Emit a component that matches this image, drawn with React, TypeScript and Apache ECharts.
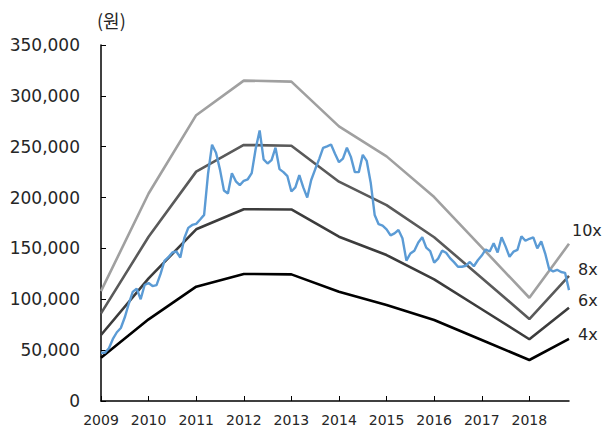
import React, { useEffect, useRef } from 'react';
import * as echarts from 'echarts';

// x positions (years) of the PER band vertices
const bandYears = [2009, 2010, 2011, 2012, 2013, 2014, 2015, 2016, 2017, 2018, 2018.833];
const per10x = [108000, 204000, 281000, 315000, 314000, 270000, 240500, 200500, 151000, 101500, 154500];
const per8x = [86200, 161500, 225500, 251700, 251000, 215600, 192500, 161000, 121000, 80600, 123000];
const per6x = [64900, 120600, 168800, 188500, 188300, 161500, 143500, 119600, 90200, 60700, 91700];
const per4x = [42600, 80300, 112400, 124900, 124500, 107500, 94400, 79600, 60000, 40300, 61000];

// monthly stock price (원), from Jan 2009
const priceStartYear = 2009;
const monthlyPrice = [
  47500, 47500, 51800, 61000, 67600, 71800, 82300, 95600, 107300, 110500, 100000, 114000,
  116000, 113000, 114000, 124700, 137700, 141400, 146000, 147000, 141000, 160000, 170200, 173100,
  174200, 178400, 183000, 223700, 252000, 244000, 227500, 207000, 204000, 224000, 216000, 212200,
  216500, 218000, 224000, 248000, 266000, 237600, 233500, 236800, 249000, 228000, 225000, 221000,
  206000, 210000, 222100, 210000, 200000, 217300, 227800, 237800, 248900, 250400, 252200, 243000,
  234800, 238200, 249000, 240000, 225000, 225000, 242000, 236000, 214600, 182900, 173800, 172400,
  168800, 162900, 164800, 168100, 160000, 138000, 145000, 147800, 155900, 161000, 150800, 147400,
  136000, 140000, 147800, 145800, 140500, 136500, 132000, 132000, 133000, 136700, 132500, 138400,
  143000, 149000, 147000, 155000, 146000, 161000, 152000, 141800, 146800, 148500, 162000, 157500,
  159500, 160900, 150000, 157000, 145000, 129500, 127400, 129000, 126800, 126000, 109000,
];

const xTickYears = [2009, 2010, 2011, 2012, 2013, 2014, 2015, 2016, 2017, 2018];
const yMin = 0;
const yMax = 350000;
const yInterval = 50000;

const bandLabels = ['10x', '8x', '6x', '4x'];

export default function App() {
  const ref = useRef<HTMLDivElement>(null);

  useEffect(() => {
    const chart = echarts.init(ref.current!, null, { renderer: 'svg' });
    const toPairs = (vals: number[]) => bandYears.map((y, i) => [y, vals[i]]);
    const priceData = monthlyPrice.map((v, i) => [priceStartYear + i / 12, v]);
    const textColor = '#262626';
    const labelFont = 'DejaVu Sans';

    const bandSeries = (
      name: string,
      vals: number[],
      color: string,
      distance: number,
      dy: number
    ) => ({
      name,
      type: 'line',
      data: toPairs(vals),
      showSymbol: false,
      symbol: 'none',
      lineStyle: { color, width: 2.6 },
      z: 2,
      endLabel: {
        show: true,
        formatter: name,
        distance,
        offset: [0, dy],
        color: textColor,
        fontSize: 16,
        fontFamily: labelFont,
      },
    });

    chart.setOption({
      animation: false,
      grid: { left: 101, right: 33, top: 45, bottom: 27, containLabel: false },
      graphic: [
        {
          type: 'text',
          left: 97,
          top: 11,
          style: {
            text: '(원)',
            fill: textColor,
            fontSize: 18,
            fontFamily: 'Noto Sans CJK KR',
          },
        },
      ],
      xAxis: {
        type: 'value',
        min: bandYears[0],
        max: bandYears[bandYears.length - 1],
        interval: 1,
        splitLine: { show: false },
        axisLine: { lineStyle: { color: '#000', width: 1.5 } },
        axisTick: {
          inside: true,
          length: 5,
          customValues: xTickYears,
          lineStyle: { color: '#000', width: 1 },
        },
        axisLabel: {
          customValues: xTickYears,
          formatter: (v: number) => String(Math.round(v)),
          color: textColor,
          fontSize: 14,
          fontFamily: labelFont,
          margin: 12,
        },
      },
      yAxis: {
        type: 'value',
        min: yMin,
        max: yMax,
        interval: yInterval,
        splitLine: { show: false },
        axisLine: { show: true, lineStyle: { color: '#000', width: 1.5 } },
        axisTick: { show: true, inside: true, length: 5, lineStyle: { color: '#000', width: 1 } },
        axisLabel: {
          formatter: (v: number) => v.toLocaleString('en-US'),
          color: textColor,
          fontSize: 17,
          fontFamily: labelFont,
          margin: 21,
        },
      },
      series: [
        bandSeries(bandLabels[0], per10x, '#a0a0a0', 3, -13),
        bandSeries(bandLabels[1], per8x, '#5a5a5a', 9, -6),
        bandSeries(bandLabels[2], per6x, '#3c3c3c', 9, -7),
        bandSeries(bandLabels[3], per4x, '#000000', 9, -4),
        {
          name: 'price',
          type: 'line',
          data: priceData,
          showSymbol: false,
          symbol: 'none',
          lineStyle: { color: '#5b9bd5', width: 2.4 },
          z: 3,
        },
      ],
    });

    return () => chart.dispose();
  }, []);

  return (
    <div
      ref={ref}
      style={{ position: 'fixed', left: 0, top: 0, width: 602, height: 428, background: '#fff' }}
    />
  );
}
